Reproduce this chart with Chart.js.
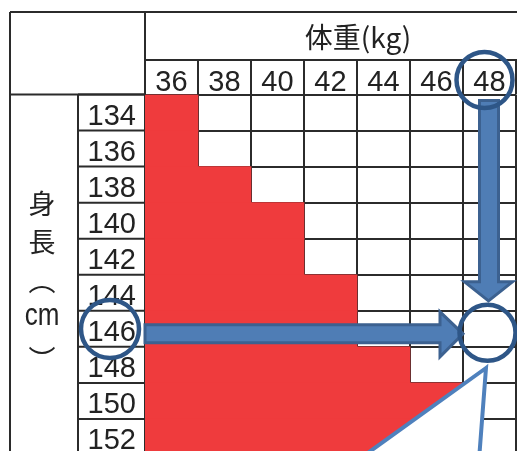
<!DOCTYPE html>
<html>
<head>
<meta charset="utf-8">
<script src="https://cdn.jsdelivr.net/npm/chart.js@4"></script>
<style>
html, body { margin: 0; padding: 0; background: #fff; overflow: hidden; }
canvas { display: block; }
</style>
</head>
<body>
<canvas id="tableChart" width="517" height="455"></canvas>
<script>
// 身長の行と体重の列
var heights = ["134", "136", "138", "140", "142", "144", "146", "148", "150", "152"];
var weights = [36, 38, 40, 42, 44, 46, 48];
// 各行で赤く塗られた一番重い体重
var redUpTo = [36, 36, 38, 40, 40, 42, 42, 44, 46, 46];
// 矢印で示す組み合わせ
var pickWeight = 48;
var pickHeight = "146";

var lineColor = "#2b2b2b";
var numFont = "'Liberation Sans Narrow', 'Liberation Sans', Arial, sans-serif";
var jpFont = "'Noto Sans CJK JP', sans-serif";

// the table borders, header text and the blue marks
var tableDecor = {
    id: "tableDecor",
    afterDraw: function(chart) {
        var c = chart.ctx;
        var xs = chart.scales.x, ys = chart.scales.y, area = chart.chartArea;
        var rowH = (area.bottom - area.top) / heights.length;
        var left = 10, top = 12, headMid = 60, bottom = chart.height;

        c.save();
        c.strokeStyle = lineColor;
        c.lineWidth = 2;
        function line(x1, y1, x2, y2) {
            c.beginPath(); c.moveTo(x1, y1); c.lineTo(x2, y2); c.stroke();
        }
        line(left, top, chart.width, top);
        line(left, top, left, bottom);
        line(area.left, top, area.left, area.top);
        line(area.left, headMid, chart.width, headMid);
        line(left, area.top, area.left, area.top);
        line(ys.left, area.top, ys.left, bottom);
        for (var i = 0; i <= heights.length; i++) {
            var y = area.top + i * rowH;
            line(ys.left, y, area.left, y);
        }
        for (var v = 35; v <= 49; v += 2) {
            var x = xs.getPixelForValue(v);
            line(x, headMid, x, area.top);
        }

        // header texts
        c.fillStyle = "#222";
        c.textAlign = "center";
        c.textBaseline = "middle";
        c.font = "28px " + jpFont;
        c.fillText("体重(kg)", 358, 37);
        c.font = "27px " + jpFont;
        c.fillText("身", 42, 204);
        c.fillText("長", 42, 242);
        c.fillText("︵", 42, 281);
        c.fillText("︶", 42, 360);
        c.save();
        c.translate(42, 316);
        c.scale(1, 1.2);
        c.font = "26px " + numFont;
        c.fillText("cm", 0, 0);
        c.restore();

        // callout bubble
        c.fillStyle = "#fff";
        c.strokeStyle = "#4f81bd";
        c.lineWidth = 4;
        c.beginPath();
        c.moveTo(486, 368);
        c.lineTo(358, 460);
        c.lineTo(479, 460);
        c.closePath();
        c.fill();
        c.stroke();

        var px = xs.getPixelForValue(pickWeight);
        var py = ys.getPixelForValue(heights.indexOf(pickHeight)) + 4;

        // arrows
        c.fillStyle = "#4f7db5";
        c.strokeStyle = "#3c6190";
        c.lineWidth = 3;
        c.lineJoin = "miter";
        c.beginPath();
        c.moveTo(px - 10, area.top + 6);
        c.lineTo(px + 9, area.top + 6);
        c.lineTo(px + 9, py - 51);
        c.lineTo(px + 23, py - 51);
        c.lineTo(px - 1, py - 32);
        c.lineTo(px - 25, py - 51);
        c.lineTo(px - 10, py - 51);
        c.closePath();
        c.fill();
        c.stroke();

        c.beginPath();
        c.moveTo(area.left, py - 8);
        c.lineTo(440, py - 8);
        c.lineTo(440, py - 21);
        c.lineTo(463, py + 1);
        c.lineTo(440, py + 24);
        c.lineTo(440, py + 10);
        c.lineTo(area.left, py + 10);
        c.closePath();
        c.fill();
        c.stroke();

        // circles
        c.strokeStyle = "#2e5687";
        c.lineWidth = 4.5;
        [[px - 5, 80, 28], [110, 329, 29], [px - 2, py, 28]].forEach(function(o) {
            c.beginPath();
            c.arc(o[0], o[1], o[2], 0, Math.PI * 2);
            c.stroke();
        });
        c.restore();
    }
};

var ctx = document.getElementById("tableChart").getContext("2d");
new Chart(ctx, {
    type: "bar",
    data: {
        labels: heights,
        datasets: [{
            data: redUpTo.map(function(w) { return [weights[0] - 1, w + 1]; }),
            backgroundColor: "#ef3b3d",
            borderWidth: 0,
            barPercentage: 1,
            categoryPercentage: 1
        }]
    },
    options: {
        indexAxis: "y",
        responsive: false,
        animation: false,
        devicePixelRatio: 1,
        layout: { padding: { left: 78, right: 1, top: 0, bottom: 0 } },
        plugins: {
            legend: { display: false },
            tooltip: { enabled: false }
        },
        scales: {
            x: {
                type: "linear",
                position: "top",
                min: weights[0] - 1,
                max: weights[weights.length - 1] + 1,
                z: 1,
                afterBuildTicks: function(s) {
                    s.ticks = [];
                    for (var v = s.min; v <= s.max; v++) s.ticks.push({ value: v });
                },
                afterFit: function(s) {
                    s.height = 94.5;
                    s.paddingLeft = 0;
                    s.paddingRight = 0;
                },
                grid: {
                    color: function(c) {
                        return c.tick && c.tick.value % 2 === 1 ? lineColor : "rgba(0,0,0,0)";
                    },
                    lineWidth: 2,
                    drawTicks: false
                },
                border: { display: false },
                ticks: {
                    autoSkip: false,
                    maxRotation: 0,
                    padding: -3,
                    color: "#222",
                    font: { family: numFont, size: 29, lineHeight: 1 },
                    callback: function(v) { return v % 2 === 0 ? String(v) : ""; }
                }
            },
            y: {
                type: "category",
                offset: true,
                z: 1,
                afterFit: function(s) {
                    s.width = 67;
                    s.paddingTop = 0;
                    s.paddingBottom = 0;
                },
                grid: { offset: true, color: lineColor, lineWidth: 2, drawTicks: false },
                border: { display: false },
                ticks: {
                    padding: 9,
                    labelOffset: 4,
                    color: "#222",
                    font: { family: numFont, size: 29, lineHeight: 1 }
                }
            }
        }
    },
    plugins: [tableDecor]
});
</script>
</body>
</html>
